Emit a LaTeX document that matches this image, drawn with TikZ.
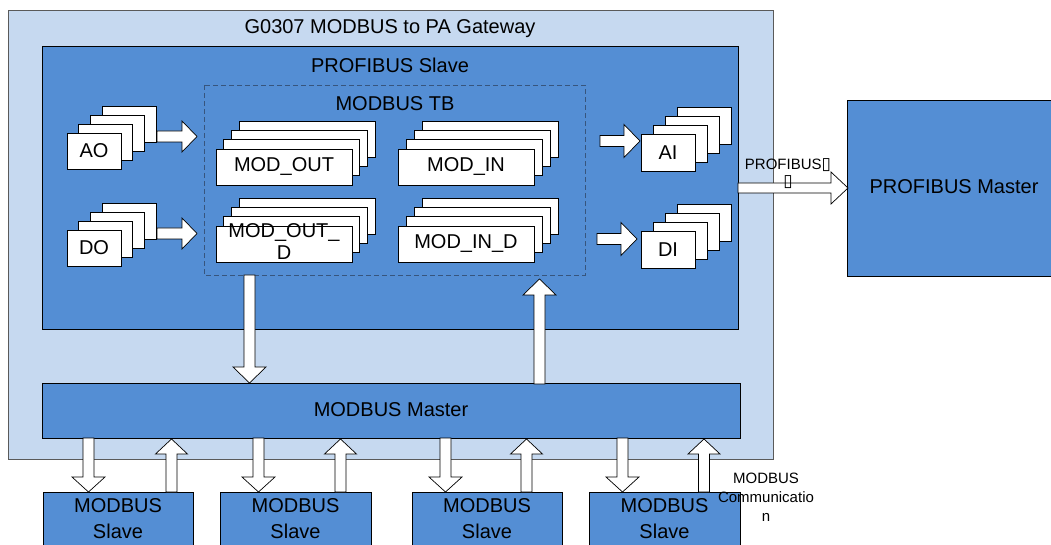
\documentclass[tikz,border=0pt]{standalone}
\usepackage{fontspec}
\setmainfont{Liberation Sans}
\newfontfamily\djv{DejaVu Sans}
\usetikzlibrary{calc}
\definecolor{gwlight}{RGB}{198,217,240}
\definecolor{midblue}{RGB}{84,142,212}
\definecolor{gwedge}{RGB}{90,90,90}
\definecolor{tbedge}{RGB}{55,85,125}
\tikzset{
  gwbox/.style={fill=gwlight,draw=gwedge,line width=1bp},
  bluebox/.style={fill=midblue,draw=black,line width=0.9bp},
  card/.style={fill=white,draw=black,line width=0.8bp,inner sep=0pt,rectangle},
  barrow/.style={fill=white,draw=black,line width=0.7bp,line join=miter},
  bigtxt/.style={font=\fontsize{20bp}{22bp}\selectfont,inner sep=0pt,align=center},
  smalltxt/.style={font=\fontsize{15bp}{19bp}\selectfont,inner sep=0pt,align=center},
  tbbox/.style={draw=tbedge,line width=0.7bp,dash pattern=on 5bp off 3bp},
}
\newcommand\cardstack[7]{% name, cx, cy, width, height, dx, dy
  \foreach \k in {3,2,1}{
    \node[card,minimum width=#4,minimum height=#5] (#1-\k) at ({#2+\k*#6},{#3+\k*#7}) {};
  }
  \node[card,minimum width=#4,minimum height=#5] (#1) at (#2,#3) {};
}
\newcommand\blockarrow[5]{% from, to, shaft half, head half, head length
  \path ($(#2)!#5!(#1)$) coordinate (hb);
  \draw[barrow] ($(#1)!#3!90:(#2)$) -- ($(hb)!#3!90:(#2)$) -- ($(hb)!#4!90:(#2)$)
    -- (#2) -- ($(hb)!#4!-90:(#2)$) -- ($(hb)!#3!-90:(#2)$) -- ($(#1)!#3!-90:(#2)$) -- cycle;
}
\newcommand\tofu{{\djv\fontsize{17bp}{17bp}\selectfont ▯}}
\begin{document}
\begin{tikzpicture}[x=1bp,y=-1bp]
\useasboundingbox (0,0) rectangle (1051,545);
\clip (0,0) rectangle (1051,545);
% containers
\draw[gwbox] (8,11) rectangle (773,459);
\node[bigtxt] (title) at (390,29) {G0307 MODBUS to PA Gateway};
\draw[bluebox] (42,46) rectangle (738,329);
\node[bigtxt] (pslave) at (390,65) {PROFIBUS Slave};
\draw[tbbox] (204,85) rectangle (585,275);
\node[bigtxt] (tb) at (395,104) {MODBUS TB};
% card stacks
\cardstack{ao}{94}{151}{54bp}{36bp}{11.7}{-8.7}
\node[bigtxt] (aot) at (ao) {AO};
\cardstack{do}{94}{248}{54bp}{36bp}{11.7}{-8.7}
\node[bigtxt] (dot) at (do) {DO};
\cardstack{modout}{284}{167}{136bp}{36bp}{7.7}{-9.3}
\node[bigtxt] (modoutt) at (modout) {MOD\_OUT};
\cardstack{modoutd}{284}{244}{136bp}{36bp}{7.7}{-9.3}
\node[bigtxt] (modoutdt) at (284,242) {MOD\_OUT\_\\D};
\cardstack{modin}{466}{167}{136bp}{36bp}{8}{-9.3}
\node[bigtxt] (modint) at (modin) {MOD\_IN};
\cardstack{modind}{466}{244}{136bp}{36bp}{8}{-9.3}
\node[bigtxt] (modindt) at (modind) {MOD\_IN\_D};
\cardstack{ai}{668}{152.5}{54bp}{37bp}{12}{-9}
\node[bigtxt] (ait) at (ai) {AI};
\cardstack{di}{668}{250}{54bp}{37bp}{12}{-9}
\node[bigtxt] (dit) at (di) {DI};
% PROFIBUS master
\draw[bluebox] (847,100) rectangle (1062,276);
\node[bigtxt] (pmaster) at (954,187) {PROFIBUS Master};
% MODBUS master and slaves
\draw[bluebox] (42,383) rectangle (740,438);
\node[bigtxt] (mmaster) at (391,410) {MODBUS Master};
\foreach \a/\b/\n in {43/193/1,220/371/2,412/562/3,589/740/4}{
  \draw[bluebox] (\a,492) rectangle (\b,560);
  \node[bigtxt,font=\fontsize{20bp}{26bp}\selectfont] (slave\n) at ({(\a+\b)/2},519) {MODBUS\\Slave};
}
% arrow end points
\coordinate (aoS) at (157,136.5); \coordinate (aoE) at (197,136.5);
\coordinate (doS) at (157,233.5); \coordinate (doE) at (197,233.5);
\coordinate (aiS) at (600,141);   \coordinate (aiE) at (640,141);
\coordinate (diS) at (597,239);   \coordinate (diE) at (637,239);
\coordinate (pbS) at (738,188);   \coordinate (pbE) at (848,188);
\coordinate (mdS) at (249.5,275); \coordinate (mdE) at (249.5,383);
\coordinate (muS) at (539.5,384); \coordinate (muE) at (539.5,279);
\blockarrow{aoS}{aoE}{5.5bp}{15.5bp}{15bp}
\blockarrow{doS}{doE}{5.5bp}{15.5bp}{15bp}
\blockarrow{aiS}{aiE}{5.5bp}{16.5bp}{16bp}
\blockarrow{diS}{diE}{5.5bp}{16.5bp}{16bp}
\blockarrow{pbS}{pbE}{5bp}{16bp}{17bp}
\blockarrow{mdS}{mdE}{5.5bp}{16.5bp}{16bp}
\blockarrow{muS}{muE}{5.5bp}{16.5bp}{16bp}
\foreach \d/\u [count=\i] in {88.5/171.5,258.5/340.5,445.5/526.5,622.5/704}{
  \coordinate (dS\i) at (\d,438); \coordinate (dE\i) at (\d,492);
  \coordinate (uS\i) at (\u,492); \coordinate (uE\i) at (\u,439);
  \blockarrow{dS\i}{dE\i}{5.5bp}{16.5bp}{15bp}
  \blockarrow{uS\i}{uE\i}{5.5bp}{16bp}{15bp}
}
% small labels
\node[smalltxt,font=\fontsize{15bp}{17bp}\selectfont] (pblabel) at (788,174) {PROFIBUS\tofu\\\tofu};
\node[smalltxt] (mclabel) at (766,497) {MODBUS\\Communicatio\\n};
\end{tikzpicture}
\end{document}
